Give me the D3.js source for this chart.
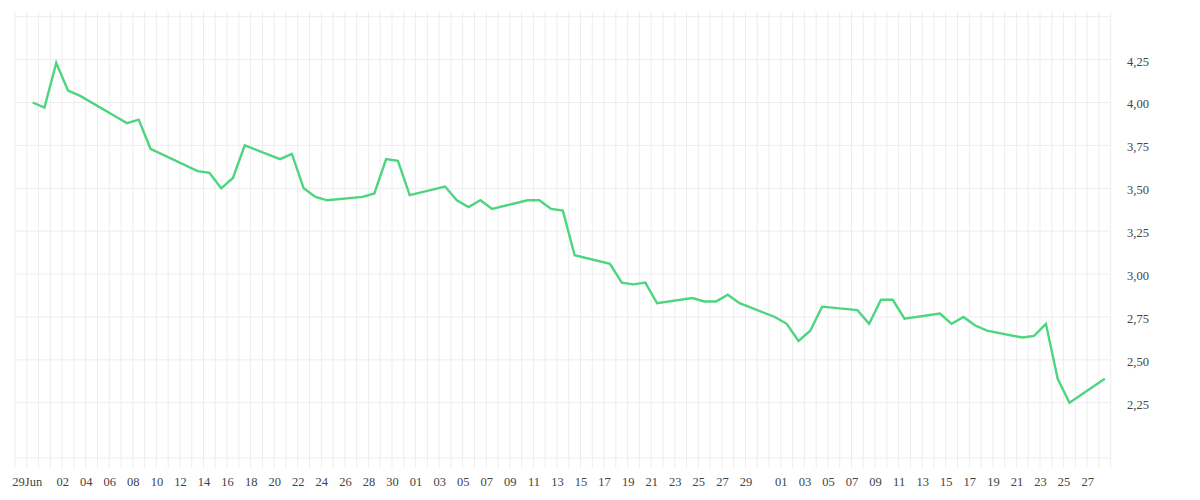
<!DOCTYPE html>
<html>
<head>
<meta charset="utf-8">
<script src="https://d3js.org/d3.v7.min.js"></script>
<style>
    body { margin: 0; background: #fff; }
    #chart text { font-family: "Liberation Serif", serif; font-size: 12.5px; fill: #444; }
</style>
</head>
<body>
<div id="chart"></div>
<script>
// trading days (weekdays only, gaps are simply bridged by the line)
const dates = ["2020-06-29","2020-06-30","2020-07-01","2020-07-02","2020-07-03",
    "2020-07-06","2020-07-07","2020-07-08","2020-07-09",
    "2020-07-13","2020-07-14","2020-07-15","2020-07-16","2020-07-17",
    "2020-07-20","2020-07-21","2020-07-22","2020-07-23","2020-07-24",
    "2020-07-27","2020-07-28","2020-07-29","2020-07-30","2020-07-31",
    "2020-08-03","2020-08-04","2020-08-05","2020-08-06","2020-08-07",
    "2020-08-10","2020-08-11","2020-08-12","2020-08-13","2020-08-14",
    "2020-08-17","2020-08-18","2020-08-19","2020-08-20","2020-08-21",
    "2020-08-24","2020-08-25","2020-08-26","2020-08-27","2020-08-28",
    "2020-08-31","2020-09-01","2020-09-02","2020-09-03","2020-09-04",
    "2020-09-07","2020-09-08","2020-09-09","2020-09-10","2020-09-11",
    "2020-09-14","2020-09-15","2020-09-16","2020-09-17","2020-09-18",
    "2020-09-21","2020-09-22","2020-09-23","2020-09-24","2020-09-25",
    "2020-09-28"];

const values = [4.00, 3.97, 4.23, 4.07, 4.04,
    3.92, 3.88, 3.90, 3.73,
    3.60, 3.59, 3.50, 3.56, 3.75,
    3.67, 3.70, 3.50, 3.45, 3.43,
    3.45, 3.47, 3.67, 3.66, 3.46,
    3.51, 3.43, 3.39, 3.43, 3.38,
    3.43, 3.43, 3.38, 3.37, 3.11,
    3.06, 2.95, 2.94, 2.95, 2.83,
    2.86, 2.84, 2.84, 2.88, 2.83,
    2.75, 2.71, 2.61, 2.67, 2.81,
    2.79, 2.71, 2.85, 2.85, 2.74,
    2.77, 2.71, 2.75, 2.70, 2.67,
    2.63, 2.64, 2.71, 2.39, 2.25,
    2.39];

// x tick dates and their labels
const tickDates = ["2020-06-29","2020-07-02","2020-07-04","2020-07-06","2020-07-08","2020-07-10",
    "2020-07-12","2020-07-14","2020-07-16","2020-07-18","2020-07-20","2020-07-22","2020-07-24",
    "2020-07-26","2020-07-28","2020-07-30","2020-08-01","2020-08-03","2020-08-05","2020-08-07",
    "2020-08-09","2020-08-11","2020-08-13","2020-08-15","2020-08-17","2020-08-19","2020-08-21",
    "2020-08-23","2020-08-25","2020-08-27","2020-08-29","2020-09-01","2020-09-03","2020-09-05",
    "2020-09-07","2020-09-09","2020-09-11","2020-09-13","2020-09-15","2020-09-17","2020-09-19",
    "2020-09-21","2020-09-23","2020-09-25","2020-09-27"];
const tickLabels = ["29Jun","02","04","06","08","10","12","14","16","18","20","22","24","26","28","30",
    "01","03","05","07","09","11","13","15","17","19","21","23","25","27","29",
    "01","03","05","07","09","11","13","15","17","19","21","23","25","27"];

const yTicks = [2.25, 2.50, 2.75, 3.00, 3.25, 3.50, 3.75, 4.00, 4.25];
const yGrid = [2.25, 2.50, 2.75, 3.00, 3.25, 3.50, 3.75, 4.00, 4.25, 4.50];

class LineChart {
    constructor() {
        this.width = 1200;
        this.height = 500;
        this.left = 15;
        this.right = 1110.7;
        this.top = 16.7;
        this.bottom = 458;

        let parse = d3.utcParse("%Y-%m-%d");
        this.parse = parse;
        this.x = d3.scaleUtc()
            .domain([parse("2020-06-28"), parse("2020-09-29")])
            .range([this.left, this.right]);
        this.y = d3.scaleLinear()
            .domain([1.928, 4.5])
            .range([this.bottom, this.top]);

        // points sit in the middle of the day cell
        this.data = dates.map((d, i) => ({date: d3.utcHour.offset(parse(d), 12), value: values[i]}));

        this.svg = d3.select("#chart").append("svg")
            .attr("width", this.width)
            .attr("height", this.height);
    }

    drawGrid() {
        let g = this.svg.append("g").attr("class", "grid");
        let days = d3.utcDay.range(this.x.domain()[0], d3.utcDay.offset(this.x.domain()[1], 1));

        g.selectAll("line.v").data(days).join("line")
            .attr("class", "v")
            .attr("x1", d => this.x(d)).attr("x2", d => this.x(d))
            .attr("y1", this.top - 5).attr("y2", this.bottom + 10)
            .style("stroke", "#ededed").style("stroke-width", 1);

        g.selectAll("line.h").data(yGrid).join("line")
            .attr("class", "h")
            .attr("x1", this.left).attr("x2", this.right)
            .attr("y1", d => this.y(d)).attr("y2", d => this.y(d))
            .style("stroke", "#ededed").style("stroke-width", 1);

        // base line
        g.append("line")
            .attr("x1", this.left).attr("x2", this.right)
            .attr("y1", this.bottom).attr("y2", this.bottom)
            .style("stroke", "#ededed").style("stroke-width", 1);
    }

    drawAxes() {
        let fmt = d3.formatLocale({decimal: ",", thousands: ".", grouping: [3], currency: ["", ""]}).format(".2f");

        let xAxis = d3.axisBottom(this.x)
            .tickValues(tickDates.map(d => this.parse(d)))
            .tickFormat((d, i) => tickLabels[i])
            .tickSize(0)
            .tickPadding(0);
        let gx = this.svg.append("g")
            .attr("transform", "translate(0," + (this.bottom + 19) + ")")
            .call(xAxis);
        gx.select(".domain").remove();

        let yAxis = d3.axisRight(this.y)
            .tickValues(yTicks)
            .tickFormat(fmt)
            .tickSize(0)
            .tickPadding(0);
        let gy = this.svg.append("g")
            .attr("transform", "translate(1127,1.5)")
            .call(yAxis);
        gy.select(".domain").remove();
        gy.selectAll("text").attr("text-anchor", "start");
    }

    drawLine() {
        let line = d3.line()
            .x(d => this.x(d.date))
            .y(d => this.y(d.value));

        this.svg.append("path")
            .datum(this.data)
            .attr("d", line)
            .style("fill", "none")
            .style("stroke", "#4dd57f")
            .style("stroke-width", 2.4)
            .style("stroke-linejoin", "miter");
    }
}

let chart = new LineChart();
chart.drawGrid();
chart.drawAxes();
chart.drawLine();
</script>
</body>
</html>
